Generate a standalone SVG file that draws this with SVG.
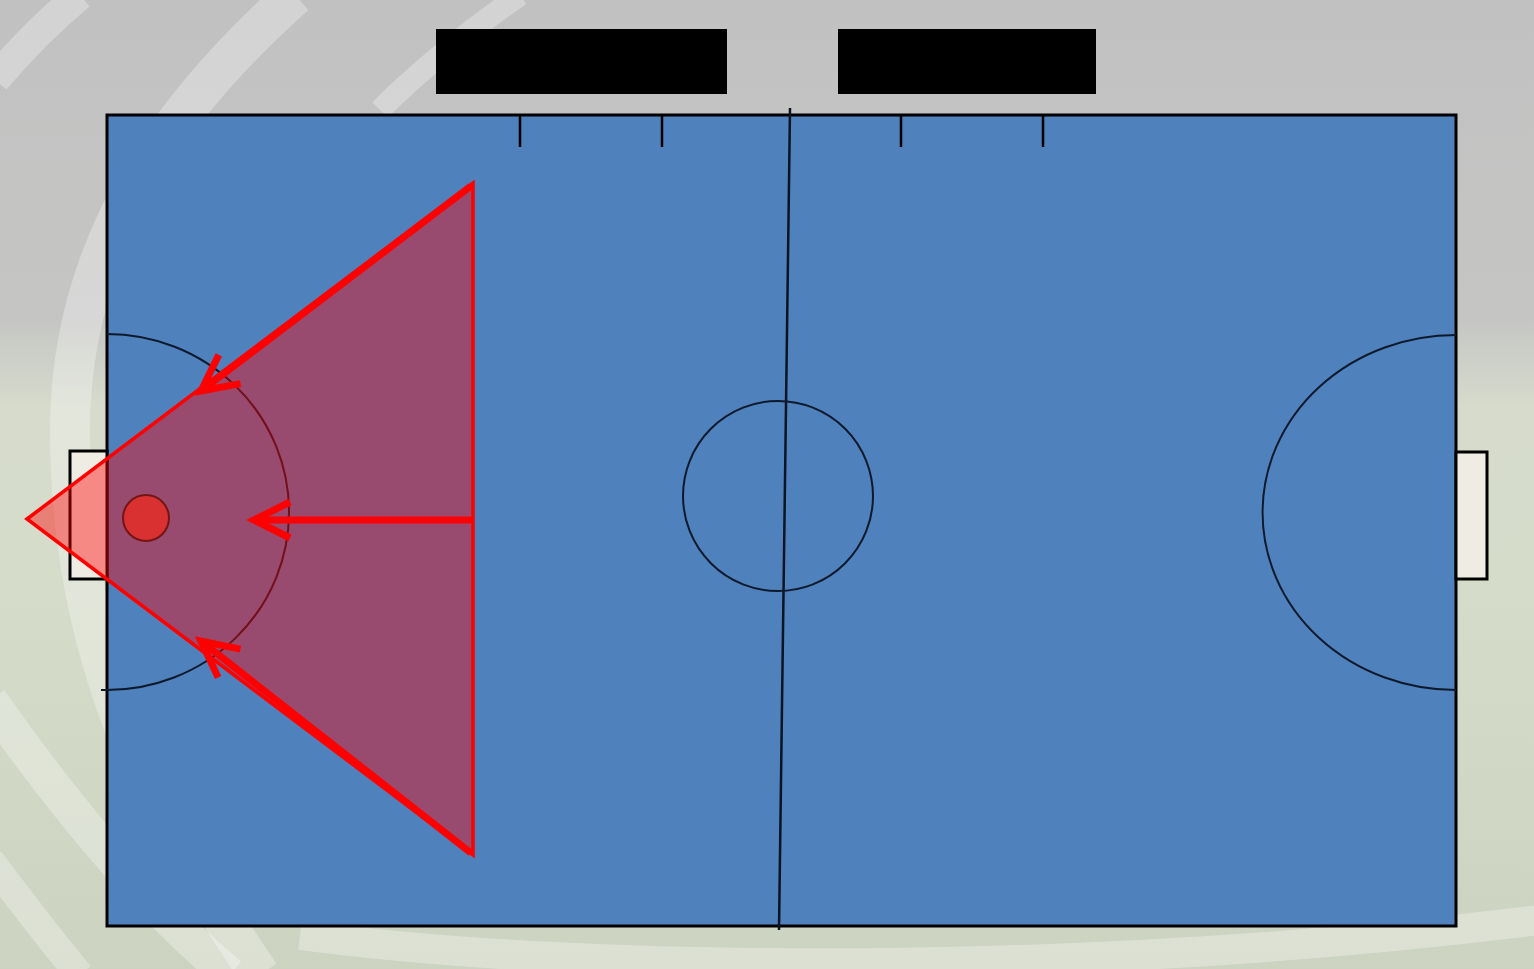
<svg xmlns="http://www.w3.org/2000/svg" width="1534" height="969" viewBox="0 0 1534 969">
<style>
.court{fill:#4f81bd;stroke:#000;stroke-width:3}
.mark{fill:none;stroke:#0e1a2c;stroke-width:2}
.goal{fill:#efede3;stroke:#000;stroke-width:3}
.swirl{fill:none;stroke:#ffffff;stroke-opacity:0.3}
.arrow{fill:none;stroke:#ff0000;marker-end:url(#ah)}
</style>
<defs>
<linearGradient id="bg" x1="0" y1="0" x2="0" y2="1">
<stop offset="0" stop-color="#c1c1c1"/>
<stop offset="0.33" stop-color="#c5c6c4"/>
<stop offset="0.42" stop-color="#d6dbcc"/>
<stop offset="0.6" stop-color="#d6dcca"/>
<stop offset="1" stop-color="#ccd3c1"/>
</linearGradient>
<marker id="ah" markerUnits="userSpaceOnUse" viewBox="-50 -30 60 60" markerWidth="60" markerHeight="60" refX="0" refY="0" orient="auto">
<path d="M-36,-18 L0,0 L-36,18" fill="none" stroke="#ff0000" stroke-width="7"/>
</marker>
</defs>
<g id="background">
<rect x="0" y="0" width="1534" height="969" fill="url(#bg)"/>
<path class="swirl" stroke-width="30" d="M80,-5 C50,20 20,50 -5,80"/>
<path class="swirl" stroke-width="40" d="M295,-5 C200,80 70,220 70,430 C70,640 140,800 260,975"/>
<path class="swirl" stroke-width="22" d="M520,-5 C470,30 420,70 380,110"/>
<path class="swirl" stroke-width="35" d="M-10,700 C60,800 140,900 230,975"/>
<path class="swirl" stroke-width="28" d="M-10,860 C20,900 50,940 80,975"/>
<path class="swirl" stroke-width="30" d="M300,935 C600,975 1100,975 1540,920"/>
</g>
<g id="court">
<rect x="107" y="115" width="1349" height="811" class="court"/>
<path d="M520,115 V147 M662,115 V147 M901,115 V147 M1043,115 V147" stroke="#000" stroke-width="2.5"/>
<path d="M790,108 L779,930" stroke="#0b1422" stroke-width="2.5"/>
<circle cx="778" cy="496" r="95" class="mark"/>
<path class="mark" d="M107,334 A181,177 0 0 1 107,690 M101,690 L107,690"/>
<path class="mark" d="M1456,335 A193,177 0 0 0 1456,690"/>
</g>
<g id="goal-left"><rect x="70" y="451" width="37" height="128" class="goal"/></g>
<g id="goal-right"><rect x="1456" y="452" width="31" height="127" class="goal"/></g>
<g id="label-left"><rect x="436" y="29" width="291" height="65" fill="#000"/></g>
<g id="label-right"><rect x="838" y="29" width="258" height="65" fill="#000"/></g>
<g id="zone"><polygon points="27,519 473,183 473,855" fill="#ff0000" fill-opacity="0.42" stroke="#ff0000" stroke-width="3.5" stroke-linejoin="miter"/></g>
<g id="ball"><circle cx="146" cy="518" r="23" fill="#d93131" stroke="#731515" stroke-width="2"/></g>
<g id="connectors">
<path class="arrow" stroke-width="7" d="M471,186 L201,391"/>
<path class="arrow" stroke-width="7" d="M473,520 L254,520"/>
<path class="arrow" stroke-width="7" d="M471,853 L201,641"/>
</g>
</svg>
